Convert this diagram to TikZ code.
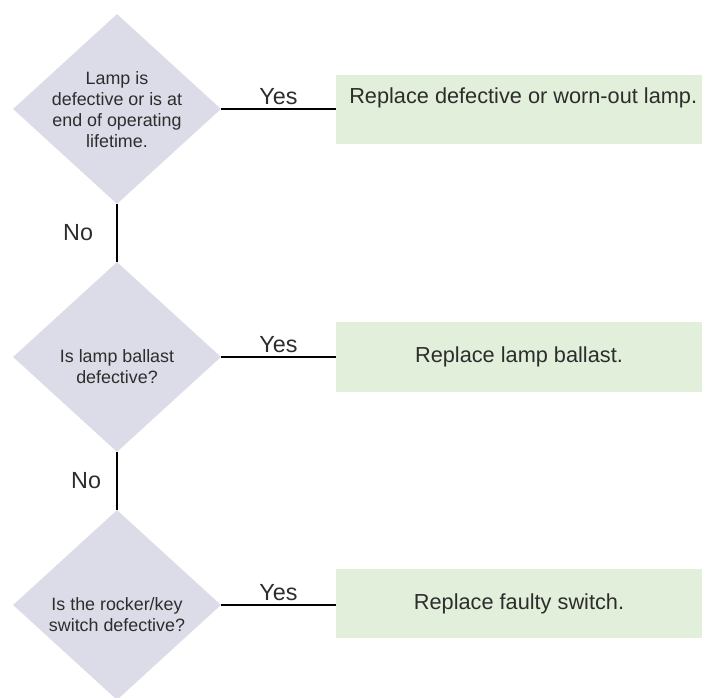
\documentclass[tikz,border=0pt]{standalone}
\usepackage{fontspec}
\setmainfont{Liberation Sans}
\usetikzlibrary{shapes.geometric}

\definecolor{diamondgrey}{RGB}{220,220,232}
\definecolor{boxgreen}{RGB}{226,239,218}
\definecolor{textgrey}{RGB}{45,45,45}

\begin{document}
\begin{tikzpicture}[x=0.75pt, y=-0.75pt,
	decision/.style={diamond, fill=diamondgrey, minimum width=156pt, minimum height=142.5pt, inner sep=0pt},
	action/.style={rectangle, fill=boxgreen, minimum width=274.5pt, minimum height=52pt, inner sep=0pt, text=textgrey, font=\fontsize{16.3}{19}\selectfont},
	question/.style={align=center, text=textgrey, font=\fontsize{13.4}{15.75}\selectfont},
	answer/.style={text=textgrey, font=\fontsize{17.5}{20}\selectfont, inner sep=2pt},
	link/.style={line width=2pt}]

	\useasboundingbox (0,0) rectangle (704,698);

	\node[decision] (Lamp) at (117,109) {};
	\node[question] (lampText) at (117,110) {Lamp is\\defective or is at\\end of operating\\lifetime.};
	\node[action] (fixLamp) at (519,109.5) {};
	\node[action, anchor=west, minimum width=0pt, minimum height=0pt, fill=none] (fixLampText) at (349,98) {Replace defective or worn-out lamp.};

	\node[decision] (Ballast) at (117,357) {};
	\node[question] (ballastText) at (117,367) {Is lamp ballast\\defective?};
	\node[action] (fixBallast) at (519,357) {Replace lamp ballast.};

	\node[decision] (Switch) at (117,605) {};
	\node[question] (switchText) at (117,615) {Is the rocker/key\\switch defective?};
	\node[action] (fixSwitch) at (519,603.5) {Replace faulty switch.};

	\draw[link] (Lamp.east) -- node[answer, above] (yes1) {Yes} (Lamp.east -| fixLamp.west);
	\draw[link] (Ballast.east) -- node[answer, above] (yes2) {Yes} (Ballast.east -| fixBallast.west);
	\draw[link] (Switch.east) -- node[answer, above] (yes3) {Yes} (Switch.east -| fixSwitch.west);

	\draw[link] (Lamp.south) -- node[answer, left=15pt] (no1) {No} (Ballast.north);
	\draw[link] (Ballast.south) -- node[answer, left=9pt] (no2) {No} (Switch.north);

\end{tikzpicture}
\end{document}
